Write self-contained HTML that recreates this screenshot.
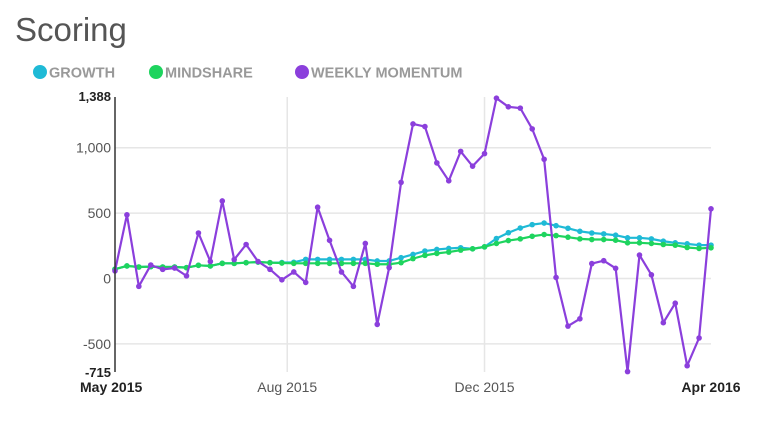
<!DOCTYPE html>
<html><head><meta charset="utf-8"><style>
body{margin:0;background:#fff;width:769px;height:430px;overflow:hidden;font-family:"Liberation Sans",sans-serif}
</style></head><body>
<svg width="769" height="430" style="position:absolute;left:0;top:0">
<text x="15" y="41" font-size="33" fill="#555">Scoring</text>
<g id="legend"></g>
<g id="grid"></g>
<g id="series"></g>
<g id="axes"></g>
</svg>
<script>
const yTicks=[-715,-500,0,500,1000,1388];
const yTickLabels=["-715","-500","0","500","1,000","1,388"];
const xTickIdx=[0,14.45,31.0,50];
const xTickLabels=["May 2015","Aug 2015","Dec 2015","Apr 2016"];
const growth=[71,96,88,91,88,88,83,101,96,116,116,121,126,121,122,124,146,146,146,146,146,146,134,134,159,184,210,222,230,235,227,242,306,350,386,412,424,404,384,361,348,341,331,311,311,303,285,273,265,255,255];
const mindshare=[71,96,88,91,88,88,83,101,96,116,116,121,126,121,118,116,116,116,116,116,116,116,109,109,121,152,177,192,202,217,227,242,268,290,303,323,336,328,316,303,298,298,293,273,273,268,260,255,237,230,235];
const momentum=[58,487,-60,103,70,80,20,348,130,593,145,260,130,70,-10,50,-30,545,292,50,-60,268,-351,83,735,1182,1162,884,747,972,859,955,1379,1313,1303,1144,912,8,-364,-308,114,136,78,-712,179,28,-338,-189,-667,-455,533];
const NS="http://www.w3.org/2000/svg";
const L=115,R=711,T=97,B=372,YMIN=-715,YMAX=1388;
const N=momentum.length;
function xs(i){return L+(R-L)*i/(N-1);}
function ys(v){return B-(v-YMIN)/(YMAX-YMIN)*(B-T);}
function mk(tag,attrs,parent){const e=document.createElementNS(NS,tag);for(const k in attrs)e.setAttribute(k,attrs[k]);parent.appendChild(e);return e;}
const grid=document.getElementById('grid'),axes=document.getElementById('axes'),ser=document.getElementById('series'),leg=document.getElementById('legend');
yTicks.forEach((v,i)=>{
  const y=ys(v);
  if(v!==YMIN&&v!==YMAX){const g=mk('line',{x1:L,x2:R,y1:y,y2:y,stroke:'#e6e6e6','stroke-width':1.5},grid);
  
  }
  const bold=(v===YMIN||v===YMAX);
  const t=mk('text',{x:L-4,y:y+(bold?(v===YMAX?4:5):5),'text-anchor':'end','font-size':bold?13:14,'font-weight':bold?'bold':'normal',fill:bold?'#222':'#555'},axes);
  t.textContent=yTickLabels[i];
  
  
});
xTickIdx.forEach((idx,i)=>{
  const x=xs(idx);
  if(i>0&&i<xTickIdx.length-1){const g=mk('line',{x1:x,x2:x,y1:T,y2:B,stroke:'#e6e6e6','stroke-width':1.5},grid);
  
  }
  const bold=(i===0||i===xTickIdx.length-1);
  const t=mk('text',{x:i===0?80:x,y:392,'text-anchor':i===0?'start':'middle','font-size':14,'font-weight':bold?'bold':'normal',fill:bold?'#222':'#555'},axes);
  t.textContent=xTickLabels[i];
  
  
});
const ax=mk('line',{x1:L,x2:L,y1:T,y2:B,stroke:'#333','stroke-width':1.5},axes);


function drawSeries(data,color,name){
  const g=mk('g',{},ser);
  
  
  const p=mk('polyline',{points:data.map((v,i)=>xs(i)+','+ys(v)).join(' '),fill:'none',stroke:color,'stroke-width':2.2,'stroke-linejoin':'round'},g);
  
  
  data.forEach((v,i)=>{const c=mk('circle',{cx:xs(i),cy:ys(v),r:2.8,fill:color},g);
    
    });
}
drawSeries(growth,'#1fbad6','growth');
drawSeries(mindshare,'#1ed45e','mindshare');
drawSeries(momentum,'#8b3fdc','momentum');
const legItems=[["GROWTH",'#1fbad6',40],["MINDSHARE",'#1ed45e',156],["WEEKLY MOMENTUM",'#8b3fdc',302]];
legItems.forEach(it=>{
  const g=mk('g',{},leg);
  
  
  mk('circle',{cx:it[2],cy:72,r:7,fill:it[1]},g);
  const t=mk('text',{x:it[2]+9,y:77.5,'font-size':14.5,'font-weight':'bold',fill:'#999'},g);
  t.textContent=it[0];
});
</script>
</body></html>
